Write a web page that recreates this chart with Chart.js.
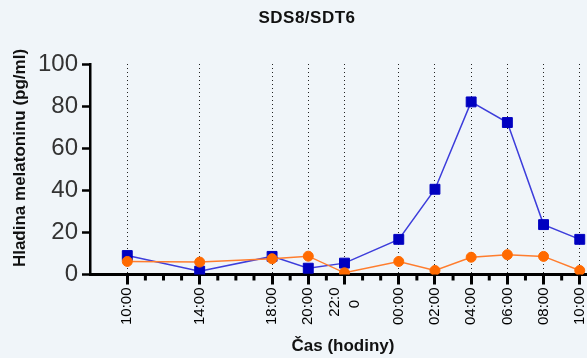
<!DOCTYPE html>
<html>
<head>
<meta charset="utf-8">
<script src="https://cdn.jsdelivr.net/npm/chart.js@4"></script>
<style>
  html, body { margin: 0; padding: 0; background: #f0f5f9; }
  #c { display: block; }
</style>
</head>
<body>
<canvas id="c" width="587" height="358"></canvas>
<script>
// Sampling times (hours after the first sample) and their clock labels
const hours = [0, 4, 8, 10, 12, 15, 17, 19, 21, 23, 25];
const timeLabels = ['10:00', '14:00', '18:00', '20:00', ['22:0', '0   '], '00:00', '02:00', '04:00', '06:00', '08:00', '10:00'];
// Unlabelled hourly ticks between the sampling times
const minorHours = [1, 2, 3, 5, 6, 7, 9, 11, 13, 14, 16, 18, 20, 22, 24];
// Melatonin level (pg/ml)
const seriesBlue = [9.0, 1.6, 8.6, 3.0, 5.4, 16.7, 40.5, 82.0, 72.2, 23.7, 16.7];
const seriesOrange = [6.2, 5.9, 7.5, 8.7, 0.8, 6.2, 1.9, 8.2, 9.4, 8.6, 1.9];
const yTicks = [0, 20, 40, 60, 80, 100];

const FONT = '"Liberation Sans", Arial, sans-serif';
// A wrapped label is spread over two text-only ticks either side of its hour
const WRAP_SHIFT = 0.55;

const toPoints = vals => vals.map((v, i) => ({ x: hours[i], y: v }));

// Build the x tick list: one real tick per sampling time, plus text-only
// ticks carrying the two halves of a wrapped label.
const xTicks = [];
hours.forEach((h, i) => {
  const lab = timeLabels[i];
  if (Array.isArray(lab)) {
    xTicks.push({ value: h - WRAP_SHIFT, label: lab[0], textOnly: true });
    xTicks.push({ value: h, label: '' });
    xTicks.push({ value: h + WRAP_SHIFT, label: lab[1], textOnly: true });
  } else {
    xTicks.push({ value: h, label: lab });
  }
});
const isTextOnly = ctx => ctx.tick && xTicks[ctx.index] && xTicks[ctx.index].textOnly;

// Hourly minor ticks plus the chart and axis titles
const decor = {
  id: 'decor',
  afterDraw(chart) {
    const { ctx, chartArea, scales: { x } } = chart;
    const base = chartArea.bottom;
    ctx.save();
    ctx.strokeStyle = '#000';
    ctx.lineWidth = 3;
    minorHours.forEach(h => {
      const px = x.getPixelForValue(h);
      ctx.beginPath();
      ctx.moveTo(px, base);
      ctx.lineTo(px, base + 6);
      ctx.stroke();
    });
    ctx.fillStyle = '#111';
    ctx.textAlign = 'center';
    ctx.textBaseline = 'middle';
    ctx.font = 'bold 17px ' + FONT;
    ctx.letterSpacing = '0.5px';
    ctx.fillText('SDS8/SDT6', 307, 18);
    ctx.letterSpacing = '0px';
    ctx.fillText('Čas (hodiny)', 343, 346);
    ctx.translate(20, 158);
    ctx.rotate(-Math.PI / 2);
    ctx.fillText('Hladina melatoninu (pg/ml)', 0, 0);
    ctx.restore();
  }
};

new Chart(document.getElementById('c'), {
  type: 'line',
  data: {
    datasets: [
      {
        data: toPoints(seriesOrange),
        borderColor: '#ff7d2e',
        borderWidth: 1.5,
        pointStyle: 'circle',
        pointRadius: 5,
        pointBackgroundColor: '#ff6a00',
        pointBorderColor: '#ff6a00',
        pointBorderWidth: 1,
        order: 0
      },
      {
        data: toPoints(seriesBlue),
        borderColor: '#3d3ddb',
        borderWidth: 1.5,
        pointStyle: 'rect',
        pointRadius: 7,
        pointBackgroundColor: '#0000c0',
        pointBorderColor: '#0000c0',
        pointBorderWidth: 1,
        order: 1
      }
    ]
  },
  options: {
    responsive: false,
    animation: false,
    devicePixelRatio: 1,
    layout: { autoPadding: false, padding: { top: 64, right: 0, bottom: 0, left: 0 } },
    plugins: { legend: { display: false }, tooltip: { enabled: false }, title: { display: false } },
    elements: { line: { tension: 0 } },
    scales: {
      x: {
        type: 'linear',
        min: -2.06,
        max: 25.4,
        afterBuildTicks: s => { s.ticks = xTicks.map(t => ({ value: t.value })); },
        afterFit: s => { s.paddingLeft = 0; s.paddingRight = 0; s.height = 83.5; },
        ticks: {
          autoSkip: false,
          minRotation: 90,
          maxRotation: 90,
          padding: 3,
          color: '#000',
          font: { family: FONT, size: 15 },
          callback: (v, i) => xTicks[i].label
        },
        grid: {
          color: ctx => isTextOnly(ctx) ? 'rgba(0,0,0,0)' : '#222',
          lineWidth: 1,
          tickLength: 10,
          tickWidth: 3,
          tickColor: ctx => isTextOnly(ctx) ? 'rgba(0,0,0,0)' : '#000',
          tickBorderDash: []
        },
        border: { display: true, color: '#000', width: 3, dash: [1, 3] }
      },
      y: {
        min: 0,
        max: 100,
        afterBuildTicks: s => { s.ticks = yTicks.map(v => ({ value: v })); },
        afterFit: s => { s.width = 90; s.paddingTop = 0; s.paddingBottom = 0; },
        ticks: { padding: 4, color: '#333', font: { family: FONT, size: 24 } },
        grid: { drawOnChartArea: false, tickLength: 8, tickWidth: 2.5, tickColor: '#000' },
        border: { display: true, color: '#000', width: 2.5 }
      }
    }
  },
  plugins: [decor]
});
</script>
</body>
</html>
